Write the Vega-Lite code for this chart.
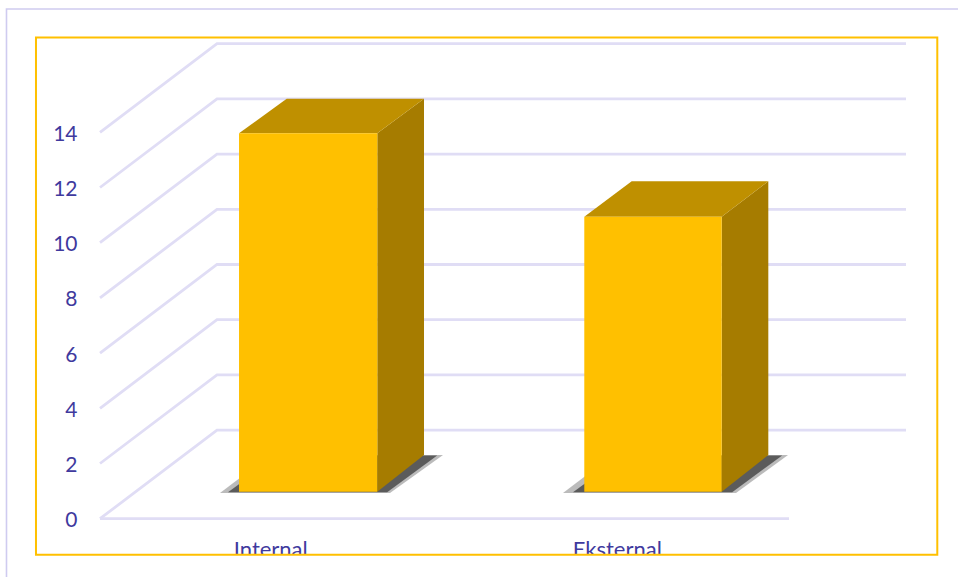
{
"$schema":"https://vega.github.io/schema/vega-lite/v6.json",
"width":958,"height":577,"padding":0,"autosize":{"type":"none"},"background":"white",
"config":{"view":{"stroke":null},"font":"Lato"},
"encoding":{
 "x":{"field":"x","type":"quantitative","scale":{"domain":[0.1058,2.88261],"nice":false,"zero":false},"axis":null},
 "y":{"field":"y","type":"quantitative","scale":{"domain":[-2.112,18.793],"nice":false,"zero":false},
  "axis":{"title":null,"values":[0,2,4,6,8,10,12,14],"grid":false,"domain":false,"ticks":false,"offset":-77,"labelPadding":0,"labelOffset":2,"labelFont":"Lato","labelFontSize":21,"labelColor":"#3f3a9e"}}
},
"layer":[
 {"data":{"values":[
  {"x":0.1246,"x2":2.95,"y":18.467,"y2":-2.4}
 ]},"mark":{"type":"rect","fill":null,"stroke":"#cfcbf0","strokeWidth":1.6,"clip":true},"encoding":{"x2":{"field":"x2"},"y2":{"field":"y2"}}},
 {"data":{"values":[
  {"line":"floor-front","x":0.3957,"y":0},{"line":"floor-front","x":2.3928,"y":0},
  {"line":"0","x":0.3957,"y":0},{"line":"0","x":0.7348,"y":3.21},{"line":"0","x":2.7319,"y":3.21},
  {"line":"2","x":0.3957,"y":2},{"line":"2","x":0.7348,"y":5.21},{"line":"2","x":2.7319,"y":5.21},
  {"line":"4","x":0.3957,"y":4},{"line":"4","x":0.7348,"y":7.21},{"line":"4","x":2.7319,"y":7.21},
  {"line":"6","x":0.3957,"y":6},{"line":"6","x":0.7348,"y":9.21},{"line":"6","x":2.7319,"y":9.21},
  {"line":"8","x":0.3957,"y":8},{"line":"8","x":0.7348,"y":11.21},{"line":"8","x":2.7319,"y":11.21},
  {"line":"10","x":0.3957,"y":10},{"line":"10","x":0.7348,"y":13.21},{"line":"10","x":2.7319,"y":13.21},
  {"line":"12","x":0.3957,"y":12},{"line":"12","x":0.7348,"y":15.21},{"line":"12","x":2.7319,"y":15.21},
  {"line":"14","x":0.3957,"y":14},{"line":"14","x":0.7348,"y":17.21},{"line":"14","x":2.7319,"y":17.21}
 ]},"mark":{"type":"line","color":"#e0ddf5","strokeWidth":2.8},"encoding":{"detail":{"field":"line"}}},
 {"data":{"values":[
  {"category":"Internal","x":0.7435,"y":0.931,"y2":0.931},{"category":"Internal","x":0.8884,"y":2.308,"y2":0.931},{"category":"Internal","x":1.2362,"y":2.308,"y2":0.931},{"category":"Internal","x":1.3899,"y":2.308,"y2":2.308},
  {"category":"Eksternal","x":1.7377,"y":0.931,"y2":0.931},{"category":"Eksternal","x":1.8826,"y":2.308,"y2":0.931},{"category":"Eksternal","x":2.2391,"y":2.308,"y2":0.931},{"category":"Eksternal","x":2.3899,"y":2.308,"y2":2.308}
 ]},"mark":{"type":"area","color":"#777777","opacity":0.5},"encoding":{"detail":{"field":"category"},"y2":{"field":"y2"}}},
 {"data":{"values":[
  {"category":"Internal","x":0.7667,"y":0.96,"y2":0.96},{"category":"Internal","x":0.9116,"y":2.29,"y2":0.96},{"category":"Internal","x":1.228,"y":2.29,"y2":0.96},{"category":"Internal","x":1.373,"y":2.29,"y2":2.29},
  {"category":"Eksternal","x":1.7667,"y":0.96,"y2":0.96},{"category":"Eksternal","x":1.9116,"y":2.29,"y2":0.96},{"category":"Eksternal","x":2.228,"y":2.29,"y2":0.96},{"category":"Eksternal","x":2.373,"y":2.29,"y2":2.29}
 ]},"mark":{"type":"area","color":"#444444","opacity":0.8},"encoding":{"detail":{"field":"category"},"y2":{"field":"y2"}}},
 {"data":{"values":[
  {"category":"Internal","face":"side","x":1.1994,"y":13.964,"y2":0.978},{"category":"Internal","face":"side","x":1.3348,"y":15.217,"y2":2.308},
  {"category":"Internal","face":"top","x":0.7986,"y":13.964,"y2":13.964},{"category":"Internal","face":"top","x":0.9368,"y":15.217,"y2":13.964},{"category":"Internal","face":"top","x":1.1994,"y":15.217,"y2":13.964},{"category":"Internal","face":"top","x":1.3348,"y":15.217,"y2":15.217},
  {"category":"Internal","face":"front","x":0.7986,"y":13.964,"y2":0.978},{"category":"Internal","face":"front","x":1.1994,"y":13.964,"y2":0.978},
  {"category":"Eksternal","face":"side","x":2.1977,"y":10.942,"y2":0.978},{"category":"Eksternal","face":"side","x":2.3328,"y":12.225,"y2":2.308},
  {"category":"Eksternal","face":"top","x":1.7994,"y":10.942,"y2":10.942},{"category":"Eksternal","face":"top","x":1.9368,"y":12.225,"y2":10.942},{"category":"Eksternal","face":"top","x":2.1977,"y":12.225,"y2":10.942},{"category":"Eksternal","face":"top","x":2.3328,"y":12.225,"y2":12.225},
  {"category":"Eksternal","face":"front","x":1.7994,"y":10.942,"y2":0.978},{"category":"Eksternal","face":"front","x":2.1977,"y":10.942,"y2":0.978}
 ]},"mark":{"type":"area"},"encoding":{
   "detail":{"field":"category"},"y2":{"field":"y2"},
   "color":{"field":"face","type":"nominal","legend":null,"scale":{"domain":["front","top","side"],"range":["#ffc000","#bf9000","#a67c00"]}}
 }},
 {"data":{"values":[
  {"label":"Internal","x":0.8906,"y":-1.39},{"label":"Eksternal","x":1.8949,"y":-1.39}
 ]},"mark":{"type":"text","font":"Lato","fontSize":22,"color":"#3f3a9e","align":"center","baseline":"alphabetic"},"encoding":{"text":{"field":"label"}}},
 {"data":{"values":[{"x":0.2,"x2":2.83,"y":-1.304,"y2":-1.95}]},"mark":{"type":"rect","fill":"white"},"encoding":{"x2":{"field":"x2"},"y2":{"field":"y2"}}},
 {"data":{"values":[{"x":0.2101,"x2":2.8226,"y":17.43,"y2":-1.304}]},"mark":{"type":"rect","fill":null,"stroke":"#ffc000","strokeWidth":2},"encoding":{"x2":{"field":"x2"},"y2":{"field":"y2"}}}
]
}
